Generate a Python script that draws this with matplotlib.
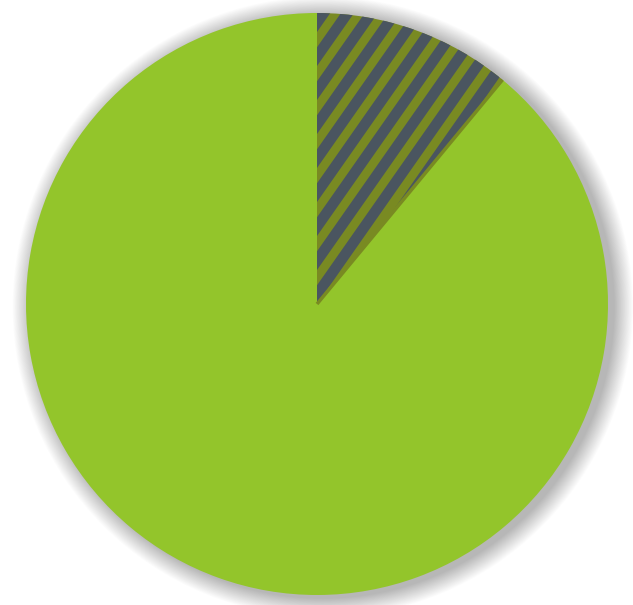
import numpy as np
import matplotlib
matplotlib.use("Agg")
import matplotlib.pyplot as plt
from matplotlib.patches import Circle, Polygon

# slice shares (percent), first slice starts at 12 o'clock going clockwise
labels = ["Highlighted", "Rest"]
values = [11, 89]
colors = ["#798a22", "#93c52b"]
stripe_color = "#4a5560"

W, H, DPI = 633, 605, 100
fig = plt.figure(figsize=(W / DPI, H / DPI), dpi=DPI)
fig.patch.set_facecolor("white")

# centre (317, 304) px from top-left, radius 291 px
cx, cy, r = 317, 605 - 304, 291
ax = fig.add_axes([(cx - r) / W, (cy - r) / H, 2 * r / W, 2 * r / H])
ax.set_xlim(-1, 1)
ax.set_ylim(-1, 1)
ax.axis("off")

# soft drop shadow
n_sh = 24
for i in range(n_sh):
    rad = 1.0 + 0.066 * (i + 1) / n_sh
    ax.add_patch(Circle((0.02, -0.01), rad, facecolor="black",
                        edgecolor="none", alpha=0.011, zorder=0,
                        clip_on=False))

wedges, _ = ax.pie(values, colors=colors, startangle=90, counterclock=False,
                   radius=1, wedgeprops=dict(linewidth=0))
ax.set_xlim(-1, 1)
ax.set_ylim(-1, 1)
ax.set_aspect("auto")

# diagonal stripes on the highlighted slice
theta = np.deg2rad(55)
d = np.array([np.cos(theta), np.sin(theta)])
nrm = np.array([-np.sin(theta), np.cos(theta)])
period = 34 * np.cos(theta) / r
width = period * 0.55
for k in range(-40, 40):
    s = k * period
    p0 = nrm * s - d * 3
    p1 = nrm * s + d * 3
    p2 = p1 + nrm * width
    p3 = p0 + nrm * width
    poly = Polygon([p0, p1, p2, p3], closed=True, facecolor=stripe_color,
                   edgecolor="none", zorder=3)
    ax.add_patch(poly)
    poly.set_clip_path(wedges[0])

# thin olive margin along the slanted edge of the striped slice
end_ang = np.deg2rad(90 - 360 * values[0] / sum(values))
ax.plot([0, np.cos(end_ang)], [0, np.sin(end_ang)], color=colors[0],
        lw=2.5, solid_capstyle="butt", zorder=4)

fig.savefig("out.png", dpi=DPI, facecolor="white")
